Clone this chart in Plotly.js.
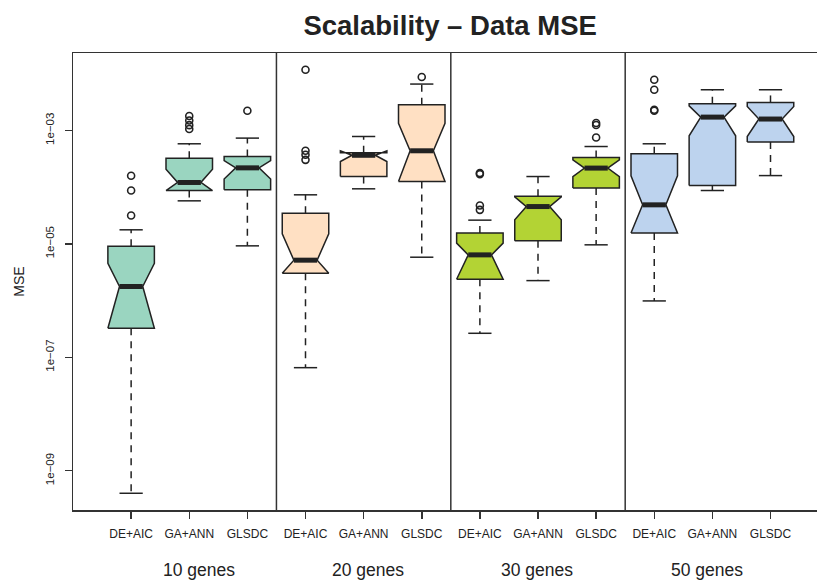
<!DOCTYPE html>
<html>
<head>
<meta charset="utf-8">
<script src="https://cdn.plot.ly/plotly-3.0.1.min.js"></script>
<style>html,body{margin:0;padding:0;background:#fff;}#chart{width:817px;height:582px;}</style>
</head>
<body>
<div id="chart"></div>
<script>
// ---- data ----
const groups = ['10 genes', '20 genes', '30 genes', '50 genes'];
const methods = ['DE+AIC', 'GA+ANN', 'GLSDC'];
const groupColors = ['#9AD5C0', '#FFE0C3', '#B3D334', '#BDD3EE'];

// one entry per box, in order: group 1 (DE+AIC, GA+ANN, GLSDC), group 2, ...
const lowerWhisker = [4.0e-10, 5.74e-5, 9.23e-6, 6.56e-8, 9.35e-5, 5.82e-6, 2.65e-7, 2.25e-6, 9.62e-6, 9.86e-7, 8.73e-5, 1.60e-4];
const q1           = [3.26e-7, 8.73e-5, 8.97e-5, 3.04e-6, 1.54e-4, 1.26e-4, 2.38e-6, 1.14e-5, 9.62e-5, 1.55e-5, 1.07e-4, 6.24e-4];
const notchLo      = [3.26e-7, 8.73e-5, 1.39e-4, 3.04e-6, 2.83e-4, 1.26e-4, 2.38e-6, 2.65e-5, 1.54e-4, 1.55e-5, 8.05e-4, 7.83e-4];
const median       = [1.77e-6, 1.21e-4, 2.19e-4, 5.16e-6, 3.65e-4, 4.38e-4, 6.40e-6, 4.55e-5, 2.17e-4, 4.88e-5, 1.72e-3, 1.59e-3];
const notchHi      = [4.53e-6, 2.08e-4, 2.95e-4, 1.50e-5, 4.38e-4, 1.34e-3, 1.03e-5, 6.76e-5, 3.03e-4, 1.59e-4, 2.72e-3, 2.65e-3];
const q3           = [9.04e-6, 3.25e-4, 3.48e-4, 3.48e-5, 4.04e-4, 2.84e-3, 1.55e-5, 6.95e-5, 3.33e-4, 3.87e-4, 2.96e-3, 3.12e-3];
const upperWhisker = [1.77e-5, 5.82e-4, 7.33e-4, 7.33e-5, 7.83e-4, 6.58e-3, 2.62e-5, 1.54e-4, 5.21e-4, 5.82e-4, 5.22e-3, 5.22e-3];
const outliers = [
  [1.59e-4, 8.73e-5, 3.16e-5],
  [1.80e-3, 1.50e-3, 1.24e-3, 1.06e-3],
  [2.22e-3],
  [1.18e-2, 4.38e-4, 3.72e-4, 3.03e-4],
  [],
  [8.75e-3],
  [1.77e-4, 1.70e-4, 4.74e-5, 3.98e-5],
  [],
  [1.35e-3, 1.25e-3, 7.52e-4],
  [7.83e-3, 5.22e-3, 2.32e-3, 2.22e-3],
  [],
  []
];
const yTickVals = [1e-9, 1e-7, 1e-5, 1e-3];
const yTickText = ['1e\u221209', '1e\u221207', '1e\u221205', '1e\u221203'];

// ---- drawing ----
const FONT = 'Liberation Sans, Arial, Helvetica, sans-serif';
const INK = '#222222';
const halfW = 0.4;      // boxwex 0.8
const notchFrac = 0.5;
const capHalf = 0.2;
// group label placement (as in the reference: evenly spaced, slightly tighter than the groups)
const labelStart = 2.17, labelStep = 2.91;

const nPer = methods.length;
const positions = [];
const tickText = [];
groups.forEach((g, gi) => methods.forEach((m, mi) => {
  positions.push(gi * nPer + mi + 1);
  tickText.push(m);
}));

const traces = [];

// whiskers (dashed)
const wx = [], wy = [];
positions.forEach((x, i) => {
  wx.push(x, x, null, x, x, null);
  wy.push(q1[i], lowerWhisker[i], null, q3[i], upperWhisker[i], null);
});
traces.push({type: 'scatter', mode: 'lines', x: wx, y: wy, hoverinfo: 'skip',
  line: {color: INK, width: 1.5, dash: '7px,6px'}, showlegend: false});

// caps
const cx = [], cy = [];
positions.forEach((x, i) => {
  cx.push(x - capHalf, x + capHalf, null, x - capHalf, x + capHalf, null);
  cy.push(lowerWhisker[i], lowerWhisker[i], null, upperWhisker[i], upperWhisker[i], null);
});
traces.push({type: 'scatter', mode: 'lines', x: cx, y: cy, hoverinfo: 'skip',
  line: {color: INK, width: 1.5}, showlegend: false});

// notched boxes
positions.forEach((x, i) => {
  const gi = Math.floor(i / nPer);
  const xs = [x - halfW, x + halfW, x + halfW, x + halfW * notchFrac, x + halfW, x + halfW,
              x - halfW, x - halfW, x - halfW * notchFrac, x - halfW, x - halfW];
  const ys = [q1[i], q1[i], notchLo[i], median[i], notchHi[i], q3[i],
              q3[i], notchHi[i], median[i], notchLo[i], q1[i]];
  traces.push({type: 'scatter', mode: 'lines', x: xs, y: ys, fill: 'toself',
    fillcolor: groupColors[gi], line: {color: INK, width: 1.5},
    name: groups[gi] + ' ' + methods[i % nPer], showlegend: false});
});

// medians
const mx = [], my = [];
positions.forEach((x, i) => {
  mx.push(x - halfW * notchFrac, x + halfW * notchFrac, null);
  my.push(median[i], median[i], null);
});
traces.push({type: 'scatter', mode: 'lines', x: mx, y: my, hoverinfo: 'skip',
  line: {color: INK, width: 5}, showlegend: false});

// outliers
const ox = [], oy = [];
positions.forEach((x, i) => outliers[i].forEach(v => { ox.push(x); oy.push(v); }));
traces.push({type: 'scatter', mode: 'markers', x: ox, y: oy,
  marker: {symbol: 'circle-open', size: 7, color: INK, line: {width: 1.6}}, showlegend: false});

// group separators and labels
const shapes = [];
for (let g = 1; g < groups.length; g++) {
  shapes.push({type: 'line', xref: 'x', yref: 'paper', x0: g * nPer + 0.5, x1: g * nPer + 0.5,
    y0: 0, y1: 1, line: {color: '#333333', width: 1.5}});
}
const annotations = groups.map((g, gi) => ({
  text: g, xref: 'x', yref: 'paper', x: labelStart + gi * labelStep, y: -0.131,
  xanchor: 'center', yanchor: 'middle', showarrow: false,
  font: {family: FONT, size: 17.5, color: INK}
}));

const layout = {
  width: 817, height: 582,
  margin: {l: 73, r: 0, t: 53, b: 72},
  paper_bgcolor: '#ffffff', plot_bgcolor: '#ffffff',
  showlegend: false,
  title: {text: 'Scalability \u2013 Data MSE', x: 0.551, xanchor: 'center', xref: 'container',
          y: 0.956, yanchor: 'middle', yref: 'container',
          font: {family: FONT, size: 27.5, color: INK, weight: 'bold'}},
  xaxis: {
    range: [0, 12.8], tickmode: 'array', tickvals: positions, ticktext: tickText,
    showgrid: false, zeroline: false, showline: true, mirror: true,
    linecolor: '#333333', linewidth: 1.5,
    ticks: 'outside', ticklen: 7, tickwidth: 1.5, tickcolor: '#333333',
    ticklabelstandoff: 5,
    tickfont: {family: FONT, size: 12, color: INK}, fixedrange: true
  },
  yaxis: {
    type: 'log', range: [-9.693, -1.634],
    tickmode: 'array', tickvals: yTickVals, ticktext: yTickText, tickangle: -90,
    showgrid: false, zeroline: false, showline: true, mirror: false,
    linecolor: '#333333', linewidth: 1.5,
    ticks: 'outside', ticklen: 7, tickwidth: 1.5, tickcolor: '#333333',
    ticklabelstandoff: 6,
    tickfont: {family: FONT, size: 11.5, color: INK},
    title: {text: 'MSE', standoff: 16, font: {family: FONT, size: 14, color: INK}},
    fixedrange: true
  },
  shapes: shapes,
  annotations: annotations
};

Plotly.newPlot('chart', traces, layout, {displayModeBar: false, staticPlot: true});
</script>
</body>
</html>
